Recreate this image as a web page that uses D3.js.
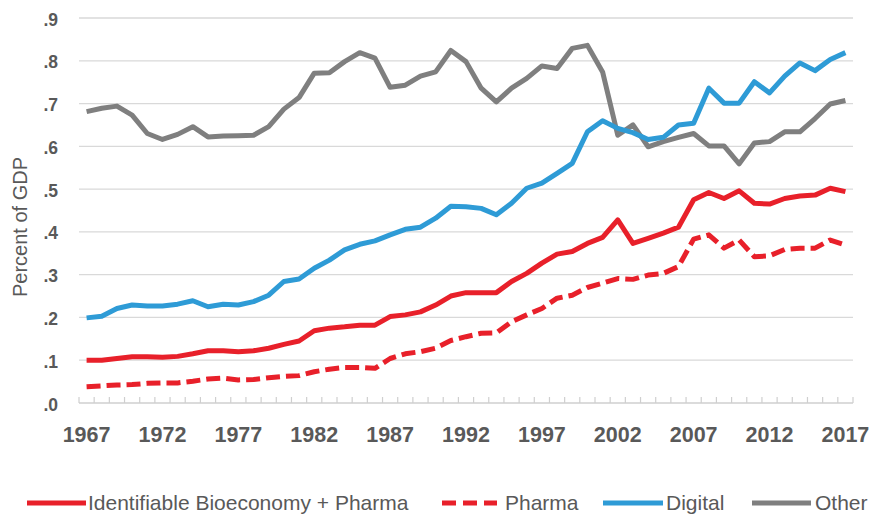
<!DOCTYPE html>
<html><head><meta charset="utf-8">
<script src="https://cdn.jsdelivr.net/npm/d3@7"></script>
<style>
html,body{margin:0;padding:0;background:#fff;}
svg{display:block;}
text{font-family:"Liberation Sans",Arial,sans-serif;fill:#595959;}
</style></head>
<body>
<svg id="chart" width="873" height="515"></svg>
<script>
const years = d3.range(1967, 2018);
const bioPharma = [0.100,0.100,0.104,0.108,0.108,0.107,0.109,0.115,0.122,0.122,0.120,0.122,0.128,0.137,0.145,0.169,0.175,0.178,0.182,0.182,0.202,0.206,0.213,0.229,0.250,0.258,0.258,0.258,0.284,0.303,0.327,0.348,0.354,0.373,0.387,0.428,0.373,0.385,0.397,0.411,0.475,0.492,0.478,0.496,0.467,0.465,0.478,0.484,0.486,0.502,0.494];
const pharma = [0.038,0.040,0.042,0.043,0.046,0.047,0.047,0.051,0.056,0.058,0.054,0.055,0.059,0.062,0.064,0.073,0.079,0.083,0.083,0.081,0.104,0.115,0.120,0.128,0.146,0.155,0.163,0.164,0.190,0.206,0.221,0.245,0.252,0.270,0.280,0.291,0.289,0.299,0.303,0.319,0.383,0.393,0.362,0.381,0.342,0.344,0.359,0.362,0.362,0.381,0.369];
const digital = [0.199,0.203,0.221,0.229,0.227,0.227,0.231,0.239,0.225,0.231,0.229,0.237,0.252,0.284,0.290,0.315,0.334,0.358,0.371,0.379,0.393,0.406,0.411,0.432,0.460,0.459,0.455,0.440,0.467,0.502,0.514,0.537,0.560,0.634,0.660,0.642,0.632,0.616,0.621,0.650,0.654,0.736,0.701,0.701,0.751,0.725,0.764,0.795,0.777,0.803,0.819];
const other = [0.681,0.689,0.694,0.673,0.630,0.616,0.628,0.646,0.622,0.624,0.625,0.626,0.646,0.687,0.714,0.771,0.772,0.798,0.819,0.806,0.738,0.743,0.764,0.774,0.824,0.798,0.736,0.704,0.736,0.759,0.788,0.782,0.829,0.836,0.774,0.626,0.650,0.599,0.611,0.621,0.630,0.601,0.601,0.559,0.608,0.611,0.634,0.634,0.665,0.699,0.707];
const yTicks = [0,0.1,0.2,0.3,0.4,0.5,0.6,0.7,0.8,0.9];
const xTickYears = [1967,1972,1977,1982,1987,1992,1997,2002,2007,2012,2017];
const seriesNames = ["Identifiable Bioeconomy + Pharma","Pharma","Digital","Other"];

const series = [
  {name: seriesNames[0], values: bioPharma, color: "#E8202A", dash: null},
  {name: seriesNames[1], values: pharma, color: "#E8202A", dash: "14,6"},
  {name: seriesNames[2], values: digital, color: "#2E9BD6", dash: null},
  {name: seriesNames[3], values: other, color: "#7F7F7F", dash: null}
];

const svg = d3.select("#chart");
const pLeft = 79, pRight = 853, pTop = 18, pBottom = 403;
const x = d3.scaleBand().domain(years).range([pLeft, pRight]).paddingInner(0).paddingOuter(0);
const y = d3.scaleLinear().domain([0, 0.9]).range([pBottom, pTop]);
const xc = d => x(d) + x.bandwidth() / 2;

// gridlines
svg.append("g").selectAll("line").data(yTicks.filter(v => v > 0)).join("line")
  .attr("x1", pLeft).attr("x2", pRight)
  .attr("y1", d => y(d)).attr("y2", d => y(d))
  .attr("stroke", "#d9d9d9").attr("stroke-width", 1.3);

// y-axis labels
const fmt = v => d3.format(".1f")(v).replace(/^0/, "");
const yAxis = d3.axisLeft(y).tickValues(yTicks).tickFormat(fmt).tickSize(0).tickPadding(0);
const yg = svg.append("g").attr("transform", `translate(${pLeft - 21},1.5)`).call(yAxis);
yg.select(".domain").remove();
yg.selectAll("text").attr("font-size", 17.5).attr("font-weight", "bold").style("font-family", "'Liberation Sans',Arial,sans-serif").attr("fill", "#595959");

// x axis baseline + ticks at category boundaries
const xAxisG = svg.append("g");
xAxisG.append("line").attr("x1", pLeft).attr("x2", pRight).attr("y1", pBottom).attr("y2", pBottom)
  .attr("stroke", "#cfcfcf").attr("stroke-width", 1.3);
const boundaries = years.map(d => x(d)).concat([pRight]);
xAxisG.selectAll("line.tk").data(boundaries).join("line").attr("class", "tk")
  .attr("x1", d => d).attr("x2", d => d).attr("y1", pBottom).attr("y2", pBottom - 6)
  .attr("stroke", "#cfcfcf").attr("stroke-width", 1.2);

const xAxis = d3.axisBottom(x).tickValues(xTickYears).tickSize(0).tickPadding(0);
const xg = svg.append("g").attr("transform", `translate(0,${pBottom + 24})`).call(xAxis);
xg.select(".domain").remove();
xg.selectAll("text").attr("font-size", 21.5).attr("font-weight", "bold").style("font-family", "'Liberation Sans',Arial,sans-serif").attr("fill", "#595959");

// y axis title
svg.append("text").attr("transform", `translate(27,227) rotate(-90)`)
  .attr("text-anchor", "middle").attr("font-size", 20).text("Percent of GDP");

// lines
const line = d3.line().x((d, i) => xc(years[i])).y(d => y(d)).curve(d3.curveLinear);
const drawOrder = [3, 2, 1, 0];
drawOrder.forEach(k => {
  const s = series[k];
  svg.append("path").datum(s.values).attr("d", line)
    .attr("fill", "none").attr("stroke", s.color).attr("stroke-width", 5)
    .attr("stroke-linejoin", "round")
    .attr("stroke-dasharray", s.dash);
});

// legend
const legendX = [27, 442, 603, 752];
const legendLen = [59, 55, 60, 59];
const legendTextX = [61, 63, 63, 63];
const legendY = 503;
const lg = svg.append("g");
series.forEach((s, i) => {
  const g = lg.append("g").attr("transform", `translate(${legendX[i]},${legendY})`);
  g.append("line").attr("x1", 0).attr("x2", legendLen[i]).attr("y1", 0).attr("y2", 0)
    .attr("stroke", s.color).attr("stroke-width", 5).attr("stroke-dasharray", s.dash ? "14,7" : null);
  g.append("text").attr("x", legendTextX[i]).attr("y", 6.5).attr("font-size", 21).text(s.name);
});
</script>
</body></html>
